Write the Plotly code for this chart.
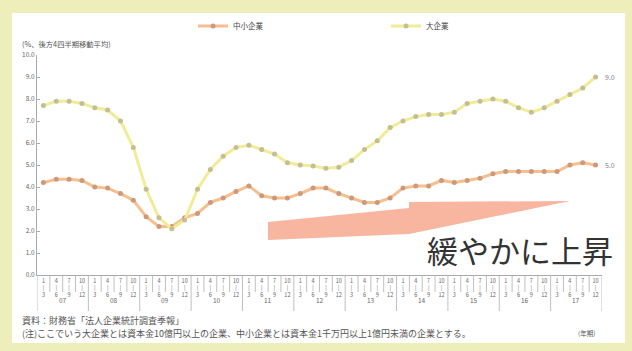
import plotly.graph_objects as go

# Quarterly ratio of ordinary profit to sales (%, trailing 4-quarter moving average)
years = ["07", "08", "09", "10", "11", "12", "13", "14", "15", "16", "17"]
quarter_labels = ["1<br>|<br>3", "4<br>|<br>6", "7<br>|<br>9", "10<br>|<br>12"]

sme = [4.2, 4.35, 4.35, 4.3, 4.0, 3.95, 3.7, 3.4,
       2.65, 2.2, 2.2, 2.6, 2.8, 3.3, 3.5, 3.8,
       4.05, 3.6, 3.5, 3.5, 3.7, 3.95, 3.95, 3.7,
       3.5, 3.3, 3.3, 3.5, 3.95, 4.05, 4.05, 4.3,
       4.2, 4.3, 4.4, 4.6, 4.7, 4.7, 4.7, 4.7,
       4.7, 5.0, 5.1, 5.0]
large = [7.7, 7.9, 7.9, 7.8, 7.6, 7.5, 7.0, 5.8,
         3.9, 2.6, 2.1, 2.5, 3.9, 4.8, 5.4, 5.8,
         5.9, 5.7, 5.5, 5.1, 5.0, 4.95, 4.85, 4.9,
         5.2, 5.7, 6.1, 6.7, 7.0, 7.2, 7.3, 7.3,
         7.4, 7.8, 7.9, 8.0, 7.9, 7.6, 7.4, 7.6,
         7.9, 8.2, 8.5, 9.0]

n = len(large)
x = list(range(n))
ticktext = [quarter_labels[i % 4] for i in x]

W, H = 632, 351
L, R, T, B = 37, 30, 55, 76
PW, PH = W - L - R, H - T - B


def px(v):
    return (v - L) / PW


def py(v):
    return (H - B - v) / PH


fig = go.Figure()
fig.add_trace(go.Scatter(
    x=x, y=sme, name="中小企業", mode="lines+markers",
    line=dict(color="#F6BF8E", width=3),
    marker=dict(color="#D0987A", size=5),
    legend="legend",
))
fig.add_trace(go.Scatter(
    x=x, y=large, name="大企業", mode="lines+markers",
    line=dict(color="#F2EC98", width=3),
    marker=dict(color="#C4BE92", size=5),
    legend="legend2",
))

shapes = []
# white panel inside the pale frame
shapes.append(dict(type="rect", xref="paper", yref="paper",
                   x0=px(12), x1=px(625), y0=py(343), y1=py(13),
                   fillcolor="white", line=dict(width=0), layer="below"))
# quarter and year separators under the axis
for i in range(1, n + 1):
    long_tick = (i % 4 == 0)
    shapes.append(dict(type="line", xref="x", yref="paper",
                       x0=i - 0.5, x1=i - 0.5, y0=0,
                       y1=py(311) if long_tick else py(292),
                       line=dict(color="#B0B0B0", width=0.8)))
shapes.append(dict(type="line", xref="x", yref="paper",
                   x0=-0.5, x1=-0.5, y0=0, y1=py(311),
                   line=dict(color="#B0B0B0", width=0.8)))
# upward arrow
pts = [(268, 222), (409, 208), (409, 202), (570, 201), (409, 234), (268, 240)]
path = "M " + " L ".join(f"{px(a):.4f},{py(b):.4f}" for a, b in pts) + " Z"
shapes.append(dict(type="path", xref="paper", yref="paper", path=path,
                   fillcolor="#F8B5A0", line=dict(width=0), layer="above"))

annotations = []
for k, yr in enumerate(years):
    annotations.append(dict(x=4 * k + 1.5, y=py(307), xref="x", yref="paper",
                            text=yr, showarrow=False,
                            font=dict(size=6.5, color="#666")))
annotations.append(dict(x=n - 1, y=large[-1], xref="x", yref="y",
                        text=f"{large[-1]:.1f}", showarrow=False,
                        xanchor="left", xshift=7,
                        font=dict(size=7, color="#7C7890")))
annotations.append(dict(x=n - 1, y=sme[-1], xref="x", yref="y",
                        text=f"{sme[-1]:.1f}", showarrow=False,
                        xanchor="left", xshift=7,
                        font=dict(size=7, color="#7C7890")))
annotations.append(dict(x=px(20), y=py(44), xref="paper", yref="paper",
                        text="(%、後方4四半期移動平均)", showarrow=False,
                        xanchor="left", yanchor="middle",
                        font=dict(size=7.3, color="#555")))
annotations.append(dict(x=px(597), y=py(333), xref="paper", yref="paper",
                        text="(年期)", showarrow=False,
                        xanchor="right", yanchor="middle",
                        font=dict(size=6.5, color="#555")))
annotations.append(dict(x=px(20), y=py(320), xref="paper", yref="paper",
                        text="資料：財務省「法人企業統計調査季報」",
                        showarrow=False, xanchor="left", yanchor="middle",
                        font=dict(size=9, color="#555")))
annotations.append(dict(x=px(20), y=py(333), xref="paper", yref="paper",
                        text="(注)ここでいう大企業とは資本金10億円以上の企業、"
                             "中小企業とは資本金1千万円以上1億円未満の企業とする。",
                        showarrow=False, xanchor="left", yanchor="middle",
                        font=dict(size=9, color="#555")))
annotations.append(dict(x=px(520), y=py(249), xref="paper", yref="paper",
                        text="緩やかに上昇", showarrow=False,
                        xanchor="center", yanchor="middle",
                        font=dict(size=31, color="#333")))

legend_style = dict(orientation="h", xanchor="left", yanchor="middle",
                    bgcolor="rgba(0,0,0,0)", itemwidth=30,
                    font=dict(size=7.5, color="#444"))

fig.update_layout(
    width=W, height=H,
    margin=dict(l=L, r=R, t=T, b=B, autoexpand=False),
    paper_bgcolor="#EEEEBB",
    plot_bgcolor="white",
    font=dict(family="Noto Sans CJK JP", color="#555"),
    showlegend=True,
    legend=dict(x=px(193), y=py(26), **legend_style),
    legend2=dict(x=px(386), y=py(26), **legend_style),
    shapes=shapes,
    annotations=annotations,
    xaxis=dict(range=[-0.5, n - 0.5], tickvals=x, ticktext=ticktext,
               ticks="", showgrid=False, zeroline=False,
               showline=True, linecolor="#AAAAAA", linewidth=1,
               tickfont=dict(size=5.5, color="#666")),
    yaxis=dict(range=[0, 10], dtick=1, tickformat=".1f",
               ticks="inside", ticklen=3, tickcolor="#AAAAAA",
               showgrid=False, zeroline=False,
               showline=True, linecolor="#AAAAAA", linewidth=1,
               tickfont=dict(size=6.5, color="#666")),
)

fig.write_html("out.html")
